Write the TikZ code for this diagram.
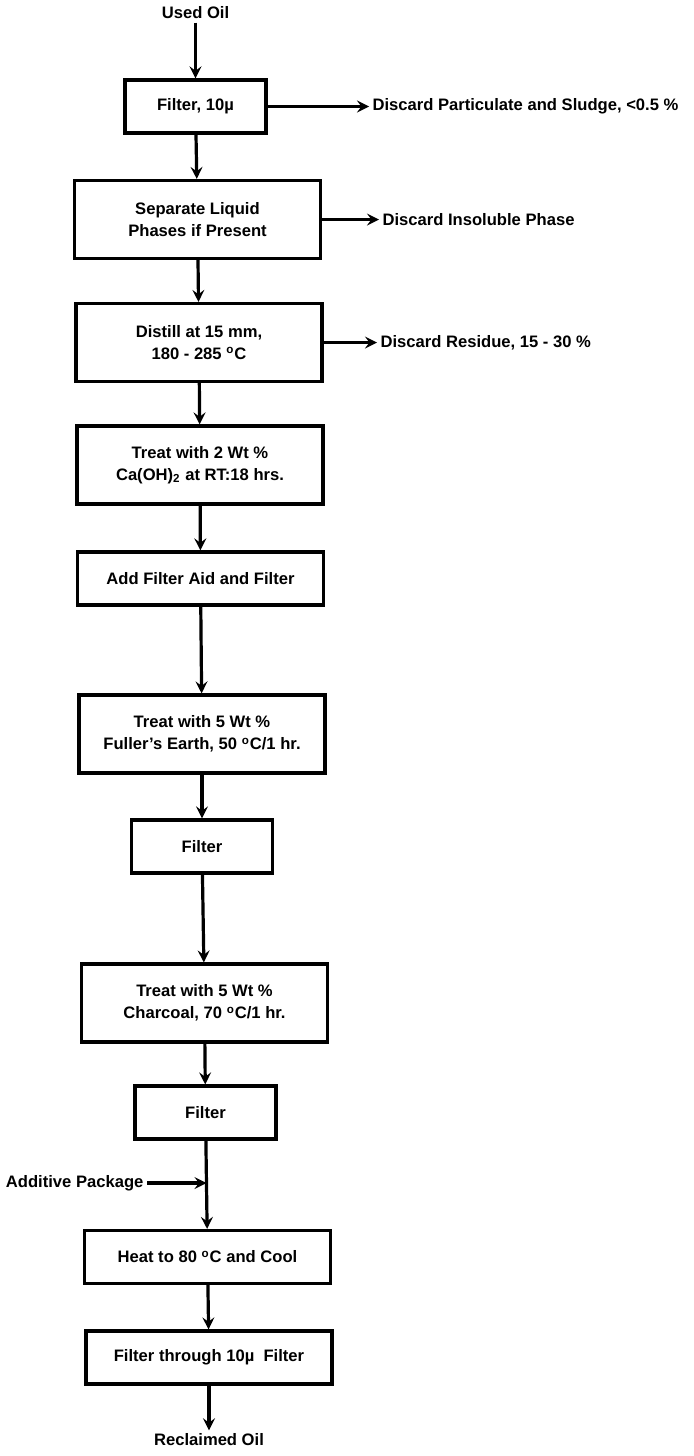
\documentclass[tikz,border=0pt]{standalone}
\usepackage{fontspec}
\setmainfont{Liberation Sans}
\usetikzlibrary{arrows}

\begin{document}
\begin{tikzpicture}[
			x=0.5pt, y=-0.5pt,
			font=\fontsize{8.3}{11}\selectfont\bfseries,
			line width=1.6pt,
			stepbox/.style={rectangle,draw,align=center,inner sep=2pt},
			widebox/.style={stepbox,minimum width=123pt},
			narrowbox/.style={stepbox,minimum width=70.5pt},
			onerow/.style={minimum height=26.5pt},
			tworow/.style={minimum height=39pt},
			note/.style={inner sep=1pt},
			flow/.style={-stealth},
			]
			\useasboundingbox (0,0) rectangle (693,1456);
			\node [note] (used) at (195.5,13) {Used Oil};
			\node [narrowbox,onerow] (filtA) at (195.5,106.5) {Filter, 10µ};
			\node [widebox,tworow] (sep) at (197.5,219.5) {Separate Liquid\\ Phases if Present};
			\node [widebox,tworow] (dist) at (199,342.5) {Distill at 15 mm,\\ 180 - 285 \textsuperscript{o}C};
			\node [widebox,tworow] (lime) at (200,465) {Treat with 2 Wt \%\\ Ca(OH)\textsubscript{2} at RT:18 hrs.};
			\node [widebox,onerow] (aid) at (200.5,578.5) {Add Filter Aid and Filter};
			\node [widebox,tworow] (earth) at (202,734) {Treat with 5 Wt \%\\ Fuller's Earth, 50 \textsuperscript{o}C/1 hr.};
			\node [narrowbox,onerow] (filtB) at (202,846.5) {Filter};
			\node [widebox,tworow] (coal) at (204.5,1003) {Treat with 5 Wt \%\\ Charcoal, 70 \textsuperscript{o}C/1 hr.};
			\node [narrowbox,onerow] (filtC) at (205.5,1112.5) {Filter};
			\node [widebox,onerow] (heat) at (207.5,1257) {Heat to 80 \textsuperscript{o}C and Cool};
			\node [widebox,onerow] (filtD) at (209,1357.5) {Filter through 10µ\ \ Filter};
			\node [note] (recl) at (209,1440) {Reclaimed Oil};
			% side streams
			\node [note,anchor=west] (discA) at (369,106.5) {Discard Particulate and Sludge, <0.5 \%};
			\node [note,anchor=west] (discB) at (379,219.5) {Discard Insoluble Phase};
			\node [note,anchor=west] (discC) at (377,342.5) {Discard Residue, 15 - 30 \%};
			\node [note,anchor=east] (addpkg) at (147,1183) {Additive Package};
			\coordinate (join) at (206.5,1183);
			% main line
			\draw [flow] (used) -- (filtA);
			\draw [flow] (filtA) -- (sep);
			\draw [flow] (sep) -- (dist);
			\draw [flow] (dist) -- (lime);
			\draw [flow] (lime) -- (aid);
			\draw [flow] (aid) -- (earth);
			\draw [flow] (earth) -- (filtB);
			\draw [flow] (filtB) -- (coal);
			\draw [flow] (coal) -- (filtC);
			\draw [flow] (filtC) -- (heat);
			\draw [flow] (heat) -- (filtD);
			\draw [flow] (filtD) -- (recl);
			\draw [flow] (filtA.east) -- (discA.west);
			\draw [flow] (sep.east) -- (discB.west);
			\draw [flow] (dist.east) -- (discC.west);
			\draw [flow] (addpkg.east) -- (join);
		\end{tikzpicture}
\end{document}
